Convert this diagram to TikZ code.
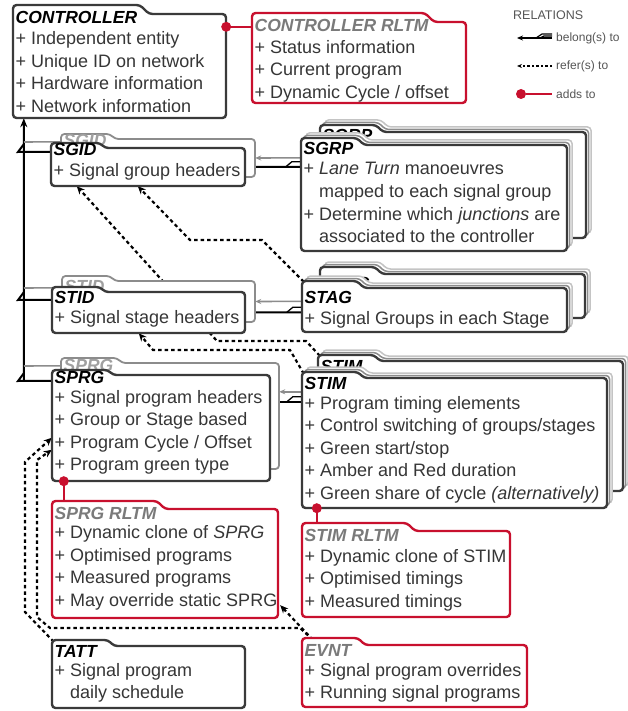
\documentclass[tikz,border=0pt]{standalone}
\usepackage{fontspec}
\setmainfont{Liberation Sans}
\usetikzlibrary{arrows.meta,fit}
\pgfdeclarelayer{links}
\pgfsetlayers{links,main}

\definecolor{edge}{HTML}{3A3A3A}
\definecolor{txt}{HTML}{363636}
\definecolor{rlred}{HTML}{C8102E}
\definecolor{rltitle}{HTML}{7A7A7A}
\definecolor{shadeA}{HTML}{8C8C8C}
\definecolor{shadeB}{HTML}{C4C4C4}
\definecolor{ghosttext}{HTML}{A0A0A0}
\definecolor{legendtext}{HTML}{555555}

\tikzset{
  boxline/.style={draw=edge, line width=2.4pt, fill=white, rounded corners=3.5pt},
  redbox/.style={draw=rlred, line width=2.4pt, fill=white, rounded corners=3.5pt},
  ghostA/.style={draw=shadeA, line width=1.5pt, fill=white, rounded corners=3.5pt},
  ghostB/.style={draw=shadeB, line width=1.5pt, fill=white, rounded corners=3.5pt},
  backbox/.style={draw=shadeA, line width=1.8pt, fill=white, rounded corners=3.5pt},
  ttl/.style={anchor=base west, inner sep=0pt, font=\fontsize{17.5}{20}\selectfont\bfseries\itshape},
  body/.style={anchor=base west, inner sep=0pt, text=txt, font=\fontsize{18}{22.5}\selectfont},
  legtext/.style={anchor=west, inner sep=0pt, text=legendtext, font=\fontsize{12}{14}\selectfont},
  belong/.style={draw=black, line width=2pt},
  belongback/.style={draw=shadeA, line width=1.6pt},
  refer/.style={draw=black, line width=2.2pt, dash pattern=on 3.5pt off 3pt,
                -{Stealth[length=8pt,width=7pt]}},
  adds/.style={draw=rlred, line width=2.4pt},
  adddot/.style={circle, fill=rlred, inner sep=0pt, minimum size=10pt},
}

% tabbed entity outline: name, x, tab top, tab right, tab height, right, bottom, style
\newcommand{\entframe}[8]{%
  \path[#8] ({#2},{(#3+#7)/2}) -- ({#2},{#3}) -- ({#4},{#3}) -- ({#4+#5},{#3+#5})
        -- ({#6},{#3+#5}) -- ({#6},{#7}) -- ({#2},{#7}) -- cycle;
  \node[inner sep=0pt, fit={({#2},{#3+#5}) ({#6},{#7})}] (#1) {};}

% a record drawn with two faint copies behind it
\newcommand{\entstack}[7]{%
  \entframe{#1-s2}{#2+5}{#3-5}{#4+5}{#5}{#6+5}{#7-5}{ghostB}
  \entframe{#1-s1}{#2+2.5}{#3-2.5}{#4+2.5}{#5}{#6+2.5}{#7-2.5}{ghostA}
  \entframe{#1}{#2}{#3}{#4}{#5}{#6}{#7}{boxline}}

% title and body lines: name, x, title baseline, title style, title, first baseline, lines, body style
\newcommand{\entlabels}[8]{%
  \node[ttl,#4] (#1-t) at ({#2},{#3}) {#5};
  \foreach \ln [count=\i] in {#7} {\node[body,#8] (#1-\i) at ({#2},{#6+(\i-1)*22.5}) {\ln};}}

% title only, for the copies lying behind a record
\newcommand{\enttitle}[5]{%
  \node[ttl,#4] (#1-t) at ({#2},{#3}) {#5};}

\begin{document}
\begin{tikzpicture}[x=1pt,y=-1pt]
\useasboundingbox (0,0) rectangle (627,711);

% ---------- controller
\entframe{ctrl}{13}{5}{140}{9}{226}{118}{boxline}
\entlabels{ctrl}{15.5}{24}{}{CONTROLLER}{45}{+ Independent entity, + Unique ID on network, + Hardware information, + Network information}{}

\entframe{crltm}{252}{13}{425}{9}{466}{103}{redbox}
\entlabels{crltm}{254.5}{32}{text=rltitle}{CONTROLLER RLTM}{53.5}{+ Status information, + Current program, + Dynamic Cycle / offset}{}

% ---------- legend
\node[legtext, font=\fontsize{12.5}{14}\selectfont] (leg-title) at (513,15) {RELATIONS};
\node[legtext] (leg-belong) at (556,38) {belong(s) to};
\node[legtext] (leg-refer) at (556,66) {refer(s) to};
\node[legtext] (leg-adds) at (556,94) {adds to};
\coordinate (lb-a) at (517,38);
\coordinate (lb-b) at (552,38);
\coordinate (lr-a) at (517,66);
\coordinate (lr-b) at (552,66);
\coordinate (la-b) at (552,94);
\draw[belong, line width=1.6pt, -{Stealth[length=6pt,width=5pt]}] (lb-b) -- (lb-a);
\draw[belong, line width=1.2pt] ([xshift=-16pt]lb-b) -- ([xshift=-10pt,yshift=4pt]lb-b) -- ([yshift=4pt]lb-b);
\draw[belong, line width=1.2pt] ([xshift=-12pt]lb-b) -- ([xshift=-8pt,yshift=2pt]lb-b) -- ([yshift=2pt]lb-b);
\draw[refer, line width=1.3pt, dash pattern=on 2.5pt off 2pt, -{Stealth[length=5pt,width=4pt]}] (lr-b) -- (lr-a);
\node[adddot] (la-dot) at (521,94) {};
\draw[adds, line width=1.8pt] (la-dot) -- (la-b);

% ---------- signal groups
\entframe{sgidb}{61}{134}{110}{5}{255}{177}{backbox}
\enttitle{sgidb}{63.5}{147}{text=ghosttext}{SGID}
\entframe{sgid}{51}{143}{100}{5}{245}{186}{boxline}
\entlabels{sgid}{53.5}{156}{}{SGID}{177}{+ Signal group headers}{}

\entstack{sgrpb}{320}{125}{376}{7}{586}{238}
\enttitle{sgrpb}{322.5}{142}{}{SGRP}
\entstack{sgrp}{301}{138}{357}{7}{567}{251}
\entlabels{sgrp}{303.5}{155}{}{SGRP}{175}{+ {\itshape Lane Turn} manoeuvres, \phantom{+ }mapped to each signal group, + Determine which {\itshape junctions} are, \phantom{+ }associated to the controller}{}

% ---------- stages
\entframe{stidb}{62}{276}{110}{5}{255}{322}{backbox}
\enttitle{stidb}{64.5}{292}{text=ghosttext}{STID}
\entframe{stid}{52}{287}{100}{5}{245}{333}{boxline}
\entlabels{stid}{54.5}{303}{}{STID}{323}{+ Signal stage headers}{}

\entstack{stagb}{320}{267}{375}{7}{585}{318}
\enttitle{stagb}{322.5}{289}{}{STAG}
\entstack{stag}{302}{281}{357}{7}{567}{332}
\entlabels{stag}{304.5}{303}{}{STAG}{324}{+ Signal Groups in each Stage}{}

% ---------- programs and timings
\entframe{sprgb}{61}{358}{117}{5}{279}{469}{backbox}
\enttitle{sprgb}{63.5}{371}{text=ghosttext}{SPRG}
\entframe{sprg}{52}{370}{108}{5}{270}{481}{boxline}
\entlabels{sprg}{54.5}{383}{}{SPRG}{403}{+ Signal program headers, + Group or Stage based, + Program Cycle / Offset, + Program green type}{}

\entstack{stimb}{318}{355}{374}{6}{623}{491}
\enttitle{stimb}{320.5}{372}{}{STIM}
\entstack{stim}{302}{372}{358}{6}{607}{508}
\entlabels{stim}{304.5}{389}{}{STIM}{409}{+ Program timing elements, + Control switching of groups/stages, + Green start/stop, + Amber and Red duration, + Green share of cycle {\itshape (alternatively)}}{}

% ---------- real-time records, schedule and events
\entframe{sprgrl}{52}{501}{157}{8}{278}{618}{redbox}
\entlabels{sprgrl}{54.5}{519}{text=rltitle}{SPRG RLTM}{538.5}{+ Dynamic clone of {\itshape SPRG}, + Optimised programs, + Measured programs, + May override static SPRG}{}

\entframe{stimrl}{302}{523}{407}{8}{510}{617}{redbox}
\entlabels{stimrl}{304.5}{541}{text=rltitle}{STIM RLTM}{562}{+ Dynamic clone of STIM, + Optimised timings, + Measured timings}{}

\entframe{tatt}{52}{640}{108}{6}{245}{708}{boxline}
\entlabels{tatt}{54.5}{657}{}{TATT}{676}{+ Signal program, \phantom{+ }daily schedule}{}

\entframe{evnt}{302}{638}{358}{7}{527}{707}{redbox}
\entlabels{evnt}{304.5}{656}{text=rltitle}{EVNT}{676}{+ Signal program overrides, + Running signal programs}{}

% ---------- "adds to" links
\node[adddot] (dot-ctrl) at ([yshift=-13pt]ctrl.north east) {};
\draw[adds] (dot-ctrl) -- ([yshift=-5pt]crltm.north west);
\node[adddot] (dot-sprg) at ([xshift=12pt]sprg.south west) {};
\draw[adds] (dot-sprg) -- ([xshift=12pt,yshift=8pt]sprgrl.north west);
\node[adddot] (dot-stim) at ([xshift=15pt]stim.south west) {};
\draw[adds] (dot-stim) -- ([xshift=15pt,yshift=8pt]stimrl.north west);

% ---------- connectors behind the records
\begin{pgfonlayer}{links}
  % trunk to the controller
  \coordinate (trunk-foot) at (24,381);
  \coordinate (j-sgid) at (24,144);
  \coordinate (j-sgidb) at (24,142);
  \coordinate (j-stid) at (24,292);
  \coordinate (j-stidb) at (24,288);
  \coordinate (j-sprg) at (24,373);
  \coordinate (j-sprgb) at (24,366);
  \draw[belong, -{Stealth[length=9pt,width=7pt]}] (trunk-foot) -- ([xshift=11pt]ctrl.south west);
  \draw[belongback] (j-sgidb) -- ([yshift=-3pt]sgidb.north west);
  \draw[belong] ([yshift=-4pt]sgid.north west) -- (18,152) -- (j-sgid);
  \draw[belongback] (j-stidb) -- ([yshift=-7pt]stidb.north west);
  \draw[belong] ([yshift=-8pt]stid.north west) -- (18,300) -- (j-stid);
  \draw[belongback] (j-sprgb) -- ([yshift=-3pt]sprgb.north west);
  \draw[belong] ([yshift=-6pt]sprg.north west) -- (18,381) -- (j-sprg);

  % many-to-one links between the right-hand records and their headers
  \draw[belongback, -{Stealth[length=6pt,width=5pt]}] ([yshift=-26pt]sgrpb.north west) -- (sgidb.east);
  \draw[belong, -{Stealth[length=6pt,width=5pt]}] ([yshift=-22pt]sgrp.north west) -- (sgid.east);
  \draw[belong, line width=1.3pt] ([xshift=-15pt,yshift=-22pt]sgrp.north west) -- ([xshift=-9pt,yshift=-17pt]sgrp.north west) -- ([yshift=-17pt]sgrp.north west);

  \draw[belongback, -{Stealth[length=6pt,width=5pt]}] ([yshift=-27.5pt]stagb.north west) -- (stidb.east);
  \draw[belong, -{Stealth[length=6pt,width=5pt]}] ([yshift=-24.5pt]stag.north west) -- (stid.east);
  \draw[belong, line width=1.3pt] ([xshift=-15pt,yshift=-24.5pt]stag.north west) -- ([xshift=-9pt,yshift=-19.5pt]stag.north west) -- ([yshift=-19.5pt]stag.north west);

  \draw[belongback, -{Stealth[length=6pt,width=5pt]}] ([yshift=-31pt]stimb.north west) -- ([yshift=-29pt]sprgb.north east);
  \draw[belong, -{Stealth[length=6pt,width=5pt]}] ([yshift=-24pt]stim.north west) -- ([yshift=-27pt]sprg.north east);
  \draw[belong, line width=1.3pt] ([xshift=-15pt,yshift=-24pt]stim.north west) -- ([xshift=-9pt,yshift=-19pt]stim.north west) -- ([yshift=-19pt]stim.north west);

  % references
  \draw[refer] ([xshift=2pt,yshift=6pt]stag.north west) -- (262,240) -- (190,240) -- ([xshift=87pt]sgid.south west);
  \draw[refer] ([xshift=2pt,yshift=5pt]stimb.north west) -- (306,341) -- (217,341) -- ([xshift=26pt]sgid.south west);
  \draw[refer] ([xshift=2pt,yshift=4pt]stim.north west) -- (290,350) -- (153,350) -- ([xshift=87pt]stid.south west);
  \draw[refer] ([xshift=2pt,yshift=4pt]tatt.north west) -- (25,612) -- (25,462) -- ([yshift=-63pt]sprg.north west);
  \draw[refer] ([xshift=11pt,yshift=5pt]evnt.north west) -- (300,628) -- (50,628) -- (37,617) -- (37,460) -- ([yshift=-75pt]sprg.north west);
  \draw[refer] ([xshift=11pt,yshift=5pt]evnt.north west) -- ([xshift=2pt,yshift=13pt]sprgrl.south east);
\end{pgfonlayer}
\end{tikzpicture}
\end{document}
